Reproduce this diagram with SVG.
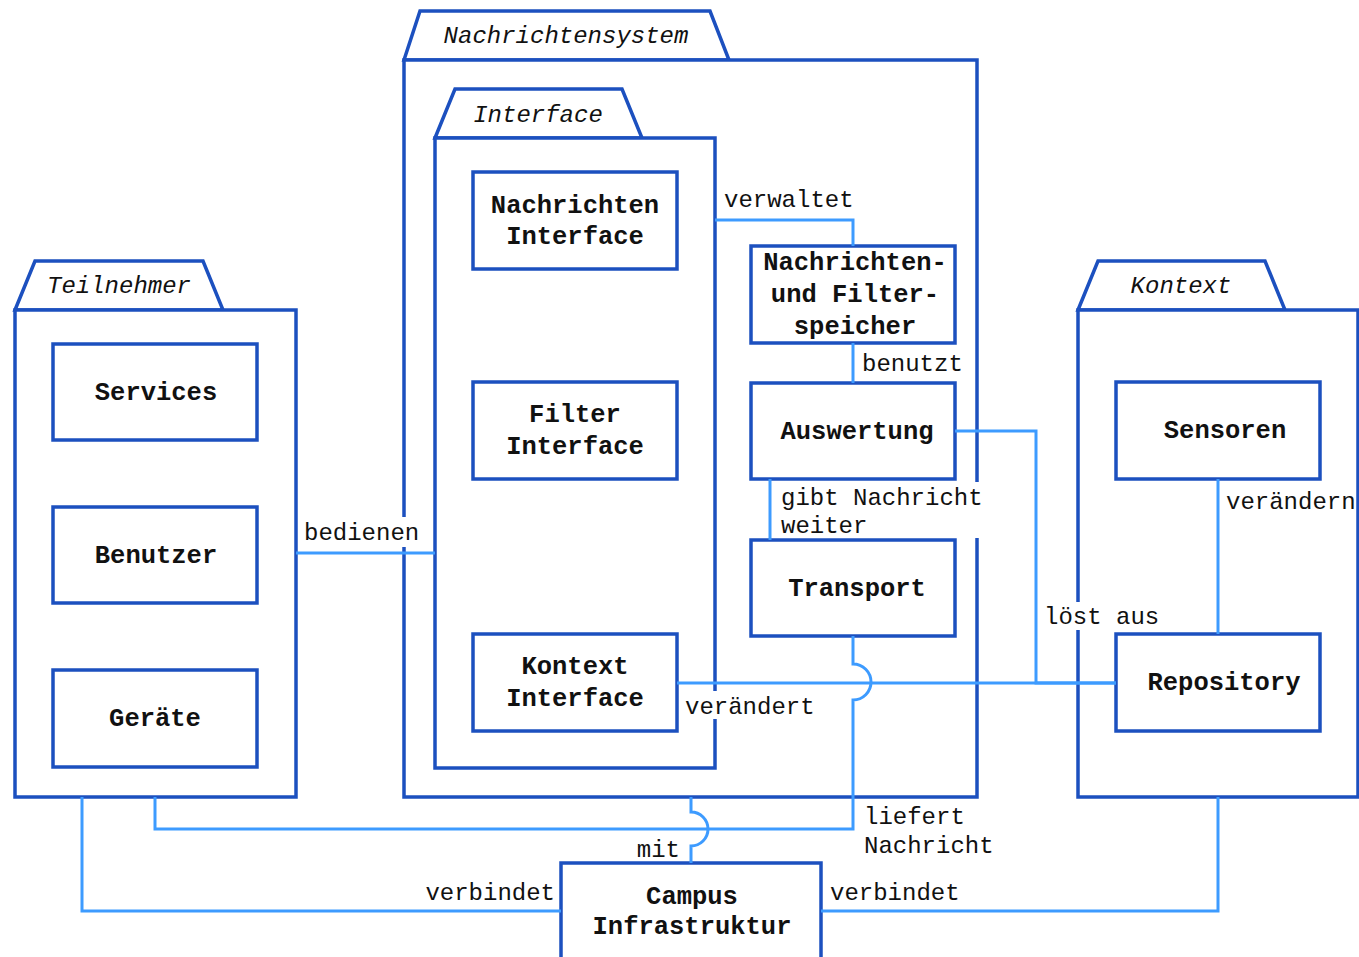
<svg xmlns="http://www.w3.org/2000/svg" width="1359" height="957" viewBox="0 0 1359 957">
<style>
.pk{fill:#fff;stroke:#1c50bf;stroke-width:3.5;stroke-linejoin:miter}
.nd{fill:#fff;stroke:#1c50bf;stroke-width:3.5}
.cn{fill:none;stroke:#3d9bff;stroke-width:3}
.bg{fill:#fff;stroke:none}
.pt{font-family:"Liberation Mono","Courier New",monospace;font-style:italic;font-size:24px;fill:#111;text-anchor:middle}
.nt{font-family:"Liberation Mono","Courier New",monospace;font-weight:bold;font-size:25.5px;fill:#111;text-anchor:middle}
.lb{font-family:"Liberation Mono","Courier New",monospace;font-size:24px;fill:#111}
</style>
<rect width="1359" height="957" fill="#fff"/>
<g id="pkg-nachrichtensystem">
<polygon class="pk" points="404,60 420,11 710,11 729,60"/>
<rect class="pk" x="404" y="60" width="573" height="737"/>
<text class="pt" x="566" y="43">Nachrichtensystem</text>
</g>
<g id="pkg-interface">
<polygon class="pk" points="435,138 455,89 622,89 642,138"/>
<rect class="pk" x="435" y="138" width="280" height="630"/>
<text class="pt" x="538" y="122">Interface</text>
</g>
<g id="pkg-teilnehmer">
<polygon class="pk" points="15,310 35,261 203,261 223,310"/>
<rect class="pk" x="15" y="310" width="281" height="487"/>
<text class="pt" x="119" y="293">Teilnehmer</text>
</g>
<g id="pkg-kontext">
<polygon class="pk" points="1078,310 1098,261 1265,261 1285,310"/>
<rect class="pk" x="1078" y="310" width="280" height="487"/>
<text class="pt" x="1181" y="293">Kontext</text>
</g>
<g id="label-backgrounds">
<rect class="bg" x="300" y="517" width="122" height="30"/>
<rect class="bg" x="778" y="482" width="204" height="56"/>
<rect class="bg" x="1040" y="602" width="120" height="28"/>
<rect class="bg" x="681" y="691" width="134" height="28"/>
</g>
<g id="node-nachrichten-interface">
<rect class="nd" x="473" y="172" width="204" height="97"/>
<text class="nt" x="575" y="213">Nachrichten</text>
<text class="nt" x="575" y="244">Interface</text>
</g>
<g id="node-filter-interface">
<rect class="nd" x="473" y="382" width="204" height="97"/>
<text class="nt" x="575" y="422">Filter</text>
<text class="nt" x="575" y="454">Interface</text>
</g>
<g id="node-kontext-interface">
<rect class="nd" x="473" y="634" width="204" height="97"/>
<text class="nt" x="575" y="674">Kontext</text>
<text class="nt" x="575" y="706">Interface</text>
</g>
<g id="node-speicher">
<rect class="nd" x="751" y="246" width="204" height="97"/>
<text class="nt" x="855" y="270">Nachrichten-</text>
<text class="nt" x="855" y="302">und Filter-</text>
<text class="nt" x="855" y="334">speicher</text>
</g>
<g id="node-auswertung">
<rect class="nd" x="751" y="383" width="204" height="96"/>
<text class="nt" x="857" y="439">Auswertung</text>
</g>
<g id="node-transport">
<rect class="nd" x="751" y="540" width="204" height="96"/>
<text class="nt" x="857" y="596">Transport</text>
</g>
<g id="node-services">
<rect class="nd" x="53" y="344" width="204" height="96"/>
<text class="nt" x="156" y="400">Services</text>
</g>
<g id="node-benutzer">
<rect class="nd" x="53" y="507" width="204" height="96"/>
<text class="nt" x="156" y="563">Benutzer</text>
</g>
<g id="node-geraete">
<rect class="nd" x="53" y="670" width="204" height="97"/>
<text class="nt" x="155" y="726">Geräte</text>
</g>
<g id="node-sensoren">
<rect class="nd" x="1116" y="382" width="204" height="97"/>
<text class="nt" x="1225" y="438">Sensoren</text>
</g>
<g id="node-repository">
<rect class="nd" x="1116" y="634" width="204" height="97"/>
<text class="nt" x="1224" y="690">Repository</text>
</g>
<g id="node-campus">
<rect class="nd" x="561" y="863" width="260" height="120"/>
<text class="nt" x="692" y="904">Campus</text>
<text class="nt" x="692" y="934">Infrastruktur</text>
</g>
<g id="connectors">
<path class="cn" d="M715,220 H853 V246"/>
<path class="cn" d="M853,343 V383"/>
<path class="cn" d="M770,479 V540"/>
<path class="cn" d="M296,553 H435"/>
<path class="cn" d="M955,431 H1036 V683 H1116"/>
<path class="cn" d="M677,683 H1116"/>
<path class="cn" d="M853,636 V664 A18,18 0 0 1 853,700 V829 H155 V797"/>
<path class="cn" d="M691,797 V812 A17,17 0 0 1 691,846 V863"/>
<path class="cn" d="M82,797 V911 H561"/>
<path class="cn" d="M821,911 H1218 V797"/>
<path class="cn" d="M1218,479 V634"/>
</g>
<g id="connector-labels">
<text class="lb" x="724" y="207">verwaltet</text>
<text class="lb" x="862" y="371">benutzt</text>
<text class="lb" x="781" y="505">gibt Nachricht</text>
<text class="lb" x="781" y="533">weiter</text>
<text class="lb" x="304" y="540">bedienen</text>
<text class="lb" x="1044" y="624">löst aus</text>
<text class="lb" x="685" y="714">verändert</text>
<text class="lb" x="864" y="824">liefert</text>
<text class="lb" x="864" y="853">Nachricht</text>
<text class="lb" x="680" y="857" text-anchor="end">mit</text>
<text class="lb" x="555" y="900" text-anchor="end">verbindet</text>
<text class="lb" x="830" y="900">verbindet</text>
<text class="lb" x="1226" y="509">verändern</text>
</g>
</svg>
